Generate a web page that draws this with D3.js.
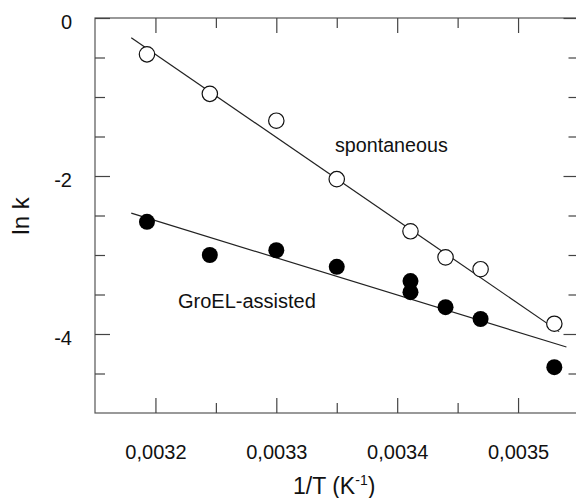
<!DOCTYPE html>
<html>
<head>
<meta charset="utf-8">
<script src="https://cdn.jsdelivr.net/npm/d3@7"></script>
<style>
  body { margin: 0; background: #fff; }
  svg text { font-family: "Liberation Sans", Arial, sans-serif; fill: #111; }
</style>
</head>
<body>
<div id="chart"></div>
<script>
var width = 576, height = 498;

// data (x = 1/T in K^-1, y = ln k)
var invT = [0.003193, 0.003245, 0.0033, 0.00335, 0.003411, 0.00344, 0.003469, 0.00353];
var spontaneous = [-0.46, -0.96, -1.30, -2.04, -2.70, -3.03, -3.18, -3.87];

var groelX = [0.003193, 0.003245, 0.0033, 0.00335, 0.003411, 0.003411, 0.00344, 0.003469, 0.00353];
var groelY = [-2.58, -3.00, -2.94, -3.15, -3.33, -3.47, -3.66, -3.81, -4.42];

// fitted lines, end points
var spontFitX = [0.00318, 0.003534];
var spontFitY = [-0.25, -3.97];
var groelFitX = [0.00318, 0.00354];
var groelFitY = [-2.47, -4.165];

var xMajor = [0.0032, 0.0033, 0.0034, 0.0035];
var xMinor = [0.00325, 0.00335, 0.00345];
var yMajor = [0, -2, -4];
var yMinor = [-0.5, -1, -1.5, -2.5, -3, -3.5, -4.5];

var svg = d3.select("#chart").append("svg")
    .attr("width", width)
    .attr("height", height);

var plotLeft = 95, plotRight = 578.5, plotTop = 18, plotBottom = 413;

var x = d3.scaleLinear().domain([0.00315, 0.00355]).range([plotLeft, plotRight]);
var y = d3.scaleLinear().domain([-5, 0]).range([plotBottom, plotTop]);

var fmt = function(d) { return d3.format(".4f")(d).replace(".", ","); };

// frame
svg.append("rect")
    .attr("x", plotLeft).attr("y", plotTop)
    .attr("width", plotRight - plotLeft).attr("height", plotBottom - plotTop)
    .attr("fill", "none").attr("stroke", "#555").attr("stroke-width", 1.2);

function styleAxis(g) {
    g.select(".domain").remove();
    g.selectAll("line").attr("stroke", "#444").attr("stroke-width", 1.2);
    g.selectAll("text").attr("font-size", 20).attr("fill", "#111")
        .style("font-family", "Liberation Sans, Arial, sans-serif");
}

// bottom
svg.append("g").attr("transform", "translate(0," + plotBottom + ")")
    .call(d3.axisBottom(x).tickValues(xMajor).tickSize(-15).tickPadding(32).tickFormat(fmt))
    .call(styleAxis);
svg.append("g").attr("transform", "translate(0," + plotBottom + ")")
    .call(d3.axisBottom(x).tickValues(xMinor).tickSize(-10).tickFormat(""))
    .call(styleAxis);
// top
svg.append("g").attr("transform", "translate(0," + plotTop + ")")
    .call(d3.axisTop(x).tickValues(xMajor).tickSize(-15).tickFormat(""))
    .call(styleAxis);
svg.append("g").attr("transform", "translate(0," + plotTop + ")")
    .call(d3.axisTop(x).tickValues(xMinor).tickSize(-10).tickFormat(""))
    .call(styleAxis);
// left
svg.append("g").attr("transform", "translate(" + plotLeft + ",0)")
    .call(d3.axisLeft(y).tickValues(yMajor).tickSize(-15).tickPadding(23)
        .tickFormat(function(d) { return String(d); }))
    .call(styleAxis)
    .selectAll("text").attr("dy", "0.52em");
svg.append("g").attr("transform", "translate(" + plotLeft + ",0)")
    .call(d3.axisLeft(y).tickValues(yMinor).tickSize(-10).tickFormat(""))
    .call(styleAxis);
// right
svg.append("g").attr("transform", "translate(" + plotRight + ",0)")
    .call(d3.axisRight(y).tickValues(yMajor).tickSize(-15).tickFormat(""))
    .call(styleAxis);
svg.append("g").attr("transform", "translate(" + plotRight + ",0)")
    .call(d3.axisRight(y).tickValues(yMinor).tickSize(-10).tickFormat(""))
    .call(styleAxis);

// fit lines
var line = d3.line().x(function(d) { return x(d[0]); }).y(function(d) { return y(d[1]); });

svg.append("path")
    .datum(d3.zip(spontFitX, spontFitY))
    .attr("d", line)
    .attr("fill", "none").attr("stroke", "#222").attr("stroke-width", 1.2);

svg.append("path")
    .datum(d3.zip(groelFitX, groelFitY))
    .attr("d", line)
    .attr("fill", "none").attr("stroke", "#222").attr("stroke-width", 1.2);

// points
svg.append("g").selectAll("circle")
    .data(d3.zip(groelX, groelY))
    .join("circle")
    .attr("cx", function(d) { return x(d[0]); })
    .attr("cy", function(d) { return y(d[1]); })
    .attr("r", 8)
    .attr("fill", "#000");

svg.append("g").selectAll("circle")
    .data(d3.zip(invT, spontaneous))
    .join("circle")
    .attr("cx", function(d) { return x(d[0]); })
    .attr("cy", function(d) { return y(d[1]); })
    .attr("r", 7.7)
    .attr("fill", "#fff")
    .attr("stroke", "#111")
    .attr("stroke-width", 1.2);

// labels
svg.append("text").attr("x", 335).attr("y", 151.5)
    .attr("font-size", 19.7).text("spontaneous");

svg.append("text").attr("x", 178).attr("y", 307.5)
    .attr("font-size", 20).text("GroEL-assisted");

// axis titles
var xt = svg.append("text").attr("x", 293).attr("y", 494).attr("font-size", 23);
xt.append("tspan").text("1/T (K");
xt.append("tspan").attr("font-size", 14).attr("dy", -9).text("-1");
xt.append("tspan").attr("dy", 9).text(")");

svg.append("text")
    .attr("transform", "translate(29,216) rotate(-90)")
    .attr("text-anchor", "middle")
    .attr("font-size", 24)
    .text("ln k");
</script>
</body>
</html>
